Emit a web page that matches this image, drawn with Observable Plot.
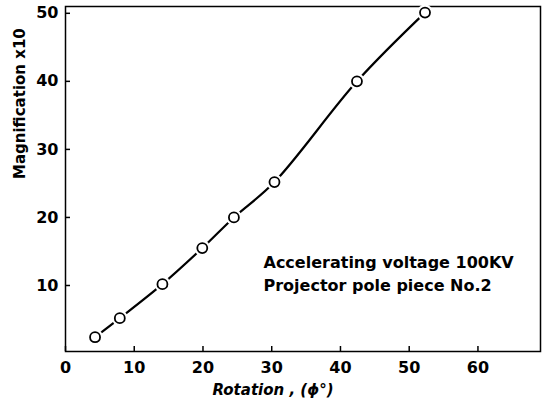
<!DOCTYPE html>
<html><head><meta charset="utf-8">
<script src="https://cdn.jsdelivr.net/npm/d3@7"></script>
<script src="https://cdn.jsdelivr.net/npm/@observablehq/plot@0.6"></script>
<style>
body{margin:0;background:#fff;}
svg{font-family:"DejaVu Sans",sans-serif;font-weight:bold;}
</style></head>
<body><div id="chart"></div>
<script>
const rotation = [4.3, 7.9, 14.1, 19.9, 24.5, 30.4, 42.4, 52.3];
const magnification = [2.4, 5.2, 10.2, 15.5, 20.0, 25.2, 40.0, 50.1];
const xTicks = [0, 10, 20, 30, 40, 50, 60];
const yTicks = [10, 20, 30, 40, 50];
const notes = ["Accelerating voltage 100KV", "Projector pole piece No.2"];
const xLabel = "Rotation , (\u03D5\u00B0)";
const yLabel = "Magnification x10";

const data = rotation.map((r, i) => ({x: r, y: magnification[i]}));

const chart = Plot.plot({
  width: 544, height: 409,
  marginLeft: 65, marginRight: 4, marginTop: 6, marginBottom: 58,
  x: {domain: [0, 69.1]},
  y: {domain: [0.3, 51]},
  marks: [
    Plot.frame({stroke: "#000", strokeWidth: 1.5}),
    Plot.axisX({ticks: xTicks, tickSize: -5, tickPadding: 15, fontSize: 16, label: null, stroke: "#000", strokeWidth: 1.5}),
    Plot.axisY({ticks: yTicks, tickSize: -5, tickPadding: 12, fontSize: 16, label: null, stroke: "#000", strokeWidth: 1.5}),
    Plot.text([xLabel], {frameAnchor: "bottom", dy: 43, dx: -30, fontSize: 15, fontStyle: "italic", fontWeight: "bold"}),
    Plot.text([yLabel], {frameAnchor: "left", dx: -45, rotate: -90, fontSize: 15, fontWeight: "bold"}),
    Plot.line(data, {x: "x", y: "y", curve: "catmull-rom", stroke: "#000", strokeWidth: 2.2}),
    Plot.dot(data, {x: "x", y: "y", r: 8, fill: "#fff", stroke: null}),
    Plot.dot(data, {x: "x", y: "y", r: 5, fill: "#fff", stroke: "#000", strokeWidth: 1.8}),
    Plot.text([notes[0]], {frameAnchor: "top-left", dx: 198, dy: 250, fontSize: 16, fontWeight: "bold", textAnchor: "start"}),
    Plot.text([notes[1]], {frameAnchor: "top-left", dx: 198, dy: 273, fontSize: 16, fontWeight: "bold", textAnchor: "start"})
  ]
});
document.getElementById("chart").append(chart);
</script></body></html>
